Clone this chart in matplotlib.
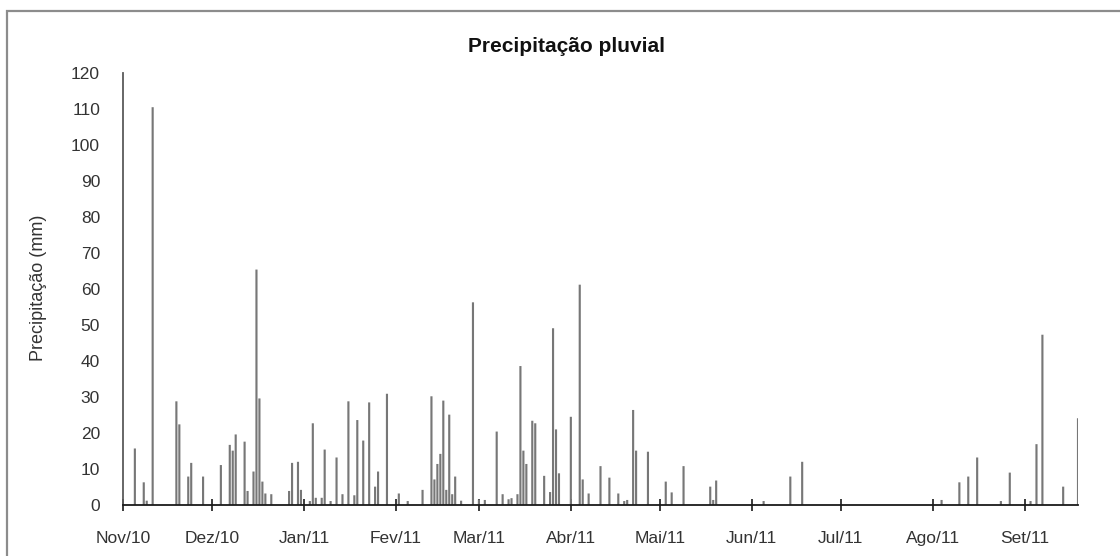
import matplotlib
matplotlib.use("Agg")
import matplotlib.pyplot as plt
import matplotlib.dates as mdates
from matplotlib.patches import Rectangle
import datetime as dt

plt.rcParams['font.family'] = ['Liberation Sans', 'DejaVu Sans']

# ---- data ----
dates = [
    "2010-11-05", "2010-11-08", "2010-11-09", "2010-11-11", "2010-11-19", "2010-11-20",
    "2010-11-23", "2010-11-24", "2010-11-28",
    "2010-12-04", "2010-12-07", "2010-12-08", "2010-12-09", "2010-12-12", "2010-12-13",
    "2010-12-15", "2010-12-16", "2010-12-17", "2010-12-18", "2010-12-19", "2010-12-21",
    "2010-12-27", "2010-12-28", "2010-12-30", "2010-12-31",
    "2011-01-03", "2011-01-04", "2011-01-05", "2011-01-07", "2011-01-08", "2011-01-10",
    "2011-01-12", "2011-01-14", "2011-01-16", "2011-01-18", "2011-01-19", "2011-01-21",
    "2011-01-23", "2011-01-25", "2011-01-26", "2011-01-29",
    "2011-02-02", "2011-02-05", "2011-02-10", "2011-02-13", "2011-02-14", "2011-02-15",
    "2011-02-16", "2011-02-17", "2011-02-18", "2011-02-19", "2011-02-20", "2011-02-21",
    "2011-02-23", "2011-02-27",
    "2011-03-01", "2011-03-03", "2011-03-07", "2011-03-09", "2011-03-11", "2011-03-12",
    "2011-03-14", "2011-03-15", "2011-03-16", "2011-03-17", "2011-03-19", "2011-03-20",
    "2011-03-23", "2011-03-25", "2011-03-26", "2011-03-27", "2011-03-28",
    "2011-04-01", "2011-04-04", "2011-04-05", "2011-04-07", "2011-04-11", "2011-04-14",
    "2011-04-17", "2011-04-19", "2011-04-20", "2011-04-22", "2011-04-23", "2011-04-27",
    "2011-05-03", "2011-05-05", "2011-05-09", "2011-05-18", "2011-05-19", "2011-05-20",
    "2011-06-05", "2011-06-14", "2011-06-18",
    "2011-08-04", "2011-08-10", "2011-08-13", "2011-08-16", "2011-08-24", "2011-08-27",
    "2011-09-03", "2011-09-05", "2011-09-07", "2011-09-14", "2011-09-19",
]
precip_mm = [
    15.7, 6.3, 1.2, 110.5, 28.8, 22.4,
    7.9, 11.7, 7.9,
    11.1, 16.7, 15.1, 19.6, 17.6, 3.9,
    9.3, 65.4, 29.6, 6.5, 3.2, 3.0,
    3.9, 11.7, 12.0, 4.2,
    1.1, 22.7, 2.0, 2.0, 15.4, 1.1,
    13.2, 3.0, 28.8, 2.7, 23.6, 17.9,
    28.5, 5.1, 9.3, 30.9,
    3.2, 1.1, 4.2, 30.2, 7.1, 11.4,
    14.2, 29.0, 4.2, 25.1, 3.0, 7.9,
    1.2, 56.3,
    1.5, 1.4, 20.4, 3.0, 1.6, 1.9,
    3.0, 38.6, 15.1, 11.4, 23.4, 22.7,
    8.1, 3.6, 49.1, 21.0, 8.8,
    24.5, 61.2, 7.1, 3.2, 10.8, 7.6,
    3.2, 1.1, 1.4, 26.4, 15.1, 14.8,
    6.5, 3.5, 10.8, 5.1, 1.4, 6.8,
    1.1, 7.9, 12.0,
    1.4, 6.3, 7.9, 13.2, 1.1, 9.0,
    1.1, 16.9, 47.3, 5.1, 24.1,
]
month_starts = ["2010-11-01", "2010-12-01", "2011-01-01", "2011-02-01", "2011-03-01",
                "2011-04-01", "2011-05-01", "2011-06-01", "2011-07-01", "2011-08-01",
                "2011-09-01"]
month_labels = ["Nov/10", "Dez/10", "Jan/11", "Fev/11", "Mar/11", "Abr/11",
                "Mai/11", "Jun/11", "Jul/11", "Ago/11", "Set/11"]
y_ticks = list(range(0, 121, 10))
x_start, x_end = "2010-11-01", "2011-09-19"

title = "Precipitação pluvial"
ylabel = "Precipitação (mm)"

# ---- figure ----
W, H = 1120, 556
fig = plt.figure(figsize=(W / 100, H / 100), dpi=100)
fig.patch.set_facecolor("white")

ax_l, ax_r, ax_b, ax_t = 123, 1078, 505, 73
ax = fig.add_axes([ax_l / W, 1 - ax_b / H, (ax_r - ax_l) / W, (ax_b - ax_t) / H])

to_num = lambda s: mdates.date2num(dt.datetime.strptime(s, "%Y-%m-%d"))
xs = [to_num(d) for d in dates]
bars = ax.bar(xs, precip_mm, width=0.72, color="#777777", edgecolor="none", zorder=2)
for b in bars:
    b.set_snap(False)

ax.set_xlim(to_num(x_start), to_num(x_end))
ax.set_ylim(0, 120)
ax.set_yticks(y_ticks)
ax.set_yticklabels([str(v) for v in y_ticks])
ax.set_xticks([to_num(d) for d in month_starts])
ax.set_xticklabels(month_labels)

for s in ["top", "right"]:
    ax.spines[s].set_visible(False)
ax.spines["left"].set_color("#5a5a5a")
ax.spines["left"].set_linewidth(1.3)
ax.spines["bottom"].set_color("#1a1a1a")
ax.spines["bottom"].set_linewidth(1.3)
ax.spines["bottom"].set_zorder(3)

ax.tick_params(axis="y", length=0, pad=16.5, labelsize=12.5, labelcolor="#333333")
ax.tick_params(axis="x", direction="inout", length=8.5, width=1.2, color="#1a1a1a",
               pad=14.5, labelsize=12.5, labelcolor="#333333")

fig.text(566 / W, 1 - 46 / H, title, ha="center", va="center",
         fontsize=15, fontweight="bold", color="#111111")
fig.text(39 / W, 1 - 288 / H, ylabel, ha="center", va="center", rotation=90,
         fontsize=13, color="#333333")

# chart-area border (extends beyond right and bottom of the image)
fig.add_artist(Rectangle((7 / W, -0.2), 2.0, 1.2 - 11 / H, transform=fig.transFigure,
                         fill=False, edgecolor="#8c8c8c", linewidth=1.6))

fig.savefig("out.png", dpi=100, facecolor="white")
